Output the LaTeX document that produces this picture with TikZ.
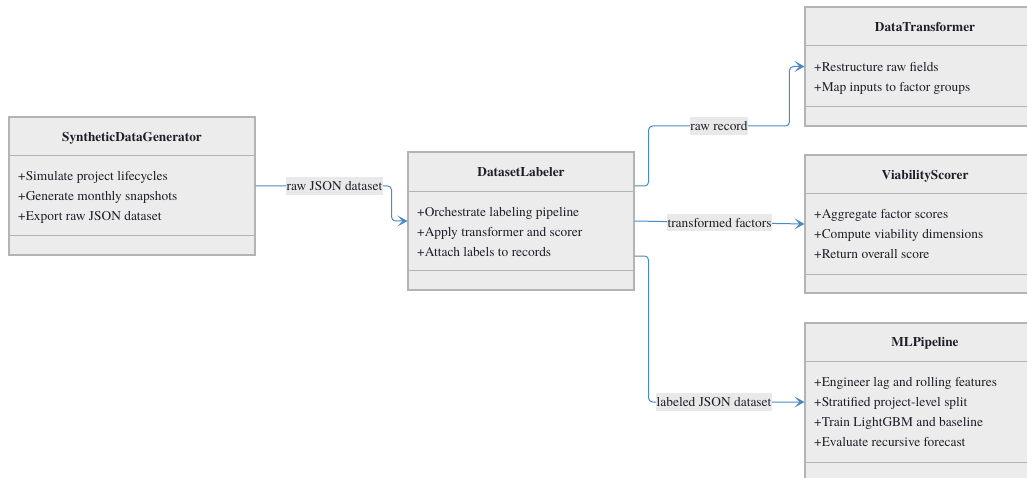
\documentclass[tikz,border=0pt]{standalone}
\usepackage{fontspec}
\setmainfont{TeX Gyre Termes}
\usetikzlibrary{calc,arrows.meta}
\definecolor{boxfill}{HTML}{ECECEC}
\definecolor{boxdraw}{HTML}{B4B4B4}
\definecolor{txt}{HTML}{1E1E2A}
\definecolor{conn}{HTML}{4A88C6}
\definecolor{lblfill}{HTML}{E9E9E9}
\tikzset{
  x=1pt, y=-1pt,
  classbox/.style={draw=boxdraw, fill=boxfill, line width=1.1pt, rectangle, inner sep=0pt},
  divider/.style={draw=boxdraw, line width=1.1pt},
  ctitle/.style={font=\fontsize{13.3}{15}\selectfont\bfseries, text=txt, anchor=base, inner sep=0pt},
  citem/.style={font=\fontsize{13.4}{15}\selectfont, text=txt, anchor=base west, inner sep=0pt},
  conline/.style={draw=conn, line width=1pt, rounded corners=4pt, -{Stealth[length=10pt,width=11pt,inset=5pt]}},
  lbl/.style={sharp corners, fill=lblfill, font=\fontsize{13.4}{15}\selectfont, text=txt, inner xsep=0.5pt, inner ysep=4pt}
}
\begin{document}
\begin{tikzpicture}
\clip (0,0) rectangle (1027,478);
\fill[white] (0,0) rectangle (1027,478);

% boxes
\node[classbox, minimum width=246pt, minimum height=138pt] (sdg) at (132,186) {};
\node[classbox, minimum width=226pt, minimum height=138pt] (dl) at (521,221) {};
\node[classbox, minimum width=240pt, minimum height=119pt] (dt) at (925,66.5) {};
\node[classbox, minimum width=240pt, minimum height=138pt] (vs) at (925,224) {};
\node[classbox, minimum width=240pt, minimum height=158pt] (ml) at (925,402) {};

% dividers
\draw[divider] ($(sdg.north west)+(0,39)$) -- ($(sdg.north east)+(0,39)$);
\draw[divider] ($(sdg.south west)+(0,-20)$) -- ($(sdg.south east)+(0,-20)$);
\draw[divider] ($(dl.north west)+(0,40)$) -- ($(dl.north east)+(0,40)$);
\draw[divider] ($(dl.south west)+(0,-20)$) -- ($(dl.south east)+(0,-20)$);
\draw[divider] ($(dt.north west)+(0,39)$) -- ($(dt.north east)+(0,39)$);
\draw[divider] ($(dt.south west)+(0,-20)$) -- ($(dt.south east)+(0,-20)$);
\draw[divider] ($(vs.north west)+(0,39)$) -- ($(vs.north east)+(0,39)$);
\draw[divider] ($(vs.south west)+(0,-19)$) -- ($(vs.south east)+(0,-19)$);
\draw[divider] ($(ml.north west)+(0,39)$) -- ($(ml.north east)+(0,39)$);
\draw[divider] ($(ml.south west)+(0,-19)$) -- ($(ml.south east)+(0,-19)$);

% titles
\node[ctitle] (sdgT) at (132,141.5) {SyntheticDataGenerator};
\node[ctitle] (dlT) at (521,176.5) {DatasetLabeler};
\node[ctitle] (dtT) at (925,31.5) {DataTransformer};
\node[ctitle] (vsT) at (925,179.5) {ViabilityScorer};
\node[ctitle] (mlT) at (925,346.5) {MLPipeline};

% items
\node[citem] (sdg1) at (18,180.5) {+Simulate project lifecycles};
\node[citem] (sdg2) at (18,200.5) {+Generate monthly snapshots};
\node[citem] (sdg3) at (18,220.5) {+Export raw JSON dataset};

\node[citem] (dl1) at (417,216.5) {+Orchestrate labeling pipeline};
\node[citem] (dl2) at (417,236.5) {+Apply transformer and scorer};
\node[citem] (dl3) at (417,256) {+Attach labels to records};

\node[citem] (dt1) at (814,71.5) {+Restructure raw fields};
\node[citem] (dt2) at (814,91.5) {+Map inputs to factor groups};

\node[citem] (vs1) at (814,218.5) {+Aggregate factor scores};
\node[citem] (vs2) at (814,238.5) {+Compute viability dimensions};
\node[citem] (vs3) at (814,258.5) {+Return overall score};

\node[citem] (ml1) at (814,386.5) {+Engineer lag and rolling features};
\node[citem] (ml2) at (814,406.5) {+Stratified project-level split};
\node[citem] (ml3) at (814,426.5) {+Train LightGBM and baseline};
\node[citem] (ml4) at (814,446) {+Evaluate recursive forecast};

% connectors
\draw[conline] (sdg.east) -- node[lbl, pos=0.58] {raw JSON dataset} ++(136,0) |- (dl.west);
\draw[conline] ($(dl.east)+(0,-35)$) -- ++(14,0) |- node[lbl, pos=0.75] {raw record} ($(dt.west)+(-15,59.5)$) |- (dt.west);
\draw[conline] (dl.east) -- node[lbl, pos=0.5] {transformed factors} (vs.west);
\draw[conline] ($(dl.east)+(0,35)$) -- ++(14,0) |- node[lbl, pos=0.71] {labeled JSON dataset} (ml.west);
\end{tikzpicture}
\end{document}
